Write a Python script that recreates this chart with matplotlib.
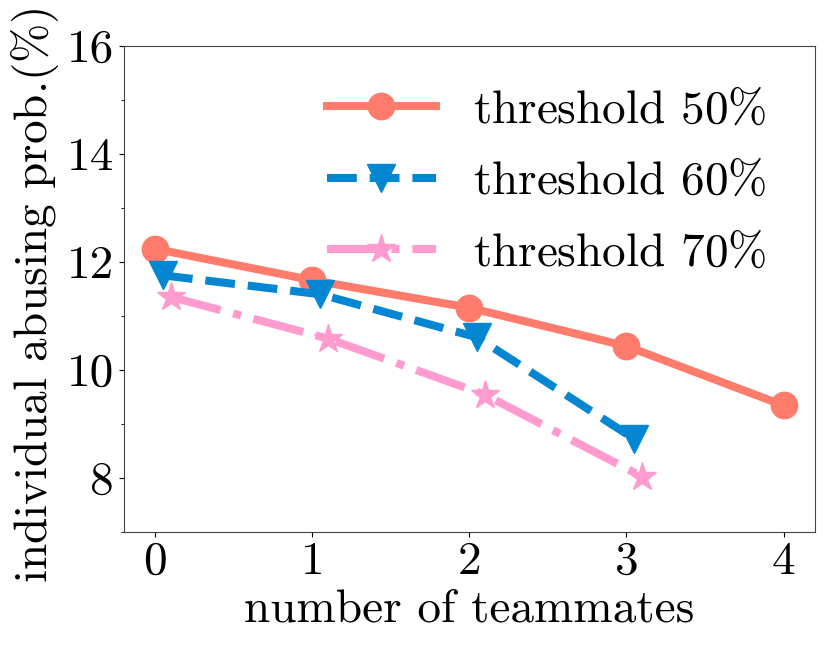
import numpy as np
import matplotlib
matplotlib.use("Agg")
import matplotlib.pyplot as plt
from matplotlib.ticker import MultipleLocator

plt.rcParams['font.family'] = 'serif'
plt.rcParams['font.serif'] = ['cmr10']
plt.rcParams['mathtext.fontset'] = 'cm'
plt.rcParams['axes.unicode_minus'] = False

# number of teammates
teammates_50 = [0, 1, 2, 3, 4]
teammates_60 = [0.05, 1.05, 2.05, 3.05]
teammates_70 = [0.1, 1.1, 2.1, 3.1]

# individual abusing prob. (%)
prob_50 = [12.24, 11.66, 11.15, 10.44, 9.34]
prob_60 = [11.75, 11.40, 10.60, 8.72]
prob_70 = [11.35, 10.58, 9.54, 8.02]

labels = ['threshold 50$\\%$', 'threshold 60$\\%$', 'threshold 70$\\%$']
xticks = [0, 1, 2, 3, 4]
yticks = [8, 10, 12, 14, 16]

fig = plt.figure(figsize=(8.3, 6.64), dpi=100)
ax = fig.add_axes([0.149, 0.199, 0.833, 0.732])

ax.plot(teammates_50, prob_50, color='#ff7b6b', linestyle='-', linewidth=5.8,
        marker='o', markersize=19, label=labels[0])
ax.plot(teammates_60, prob_60, color='#0486d2', linestyle='--', linewidth=5.8,
        marker='v', markersize=19.5, label=labels[1])
ax.plot(teammates_70, prob_70, color='#ff9bcf', linestyle='-.', linewidth=5.8,
        marker='*', markersize=21, label=labels[2])

ax.set_xlim(-0.2, 4.2)
ax.set_ylim(7, 16)
ax.set_xticks(xticks)
ax.set_yticks(yticks)
ax.yaxis.set_minor_locator(MultipleLocator(1))
ax.tick_params(axis='both', labelsize=34)

ax.set_xlabel('number of teammates', fontsize=34)
ax.set_ylabel('individual abusing prob.($\\%$)', fontsize=34)
ax.yaxis.label.set_y(0.487)

for s in ax.spines.values():
    s.set_color('#444444')

ax.legend(loc='upper right', bbox_to_anchor=(0.988, 0.994), fontsize=34,
          frameon=False, handlelength=2.3, labelspacing=0.62,
          borderaxespad=0.45, handletextpad=0.8)

fig.savefig('out.png', dpi=100)
